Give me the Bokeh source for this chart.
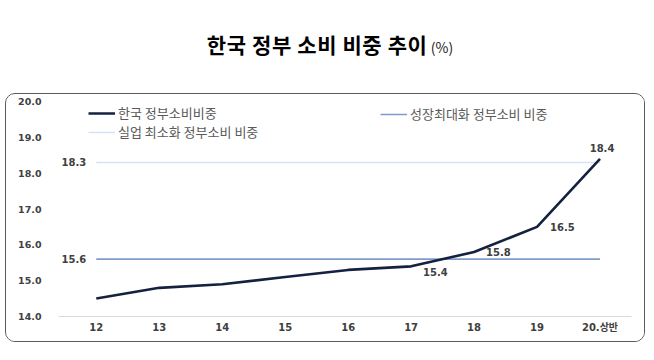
from bokeh.plotting import figure
from bokeh.models import (ColumnDataSource, Range1d, FixedTicker, NumeralTickFormatter,
                          Legend, LegendItem, Div)
from bokeh.layouts import column
from bokeh.core.properties import value
from bokeh.embed import file_html
from bokeh.resources import INLINE

# ---- data ----
years = ["12", "13", "14", "15", "16", "17", "18", "19", "20.상반"]
korea_share = [14.5, 14.8, 14.9, 15.1, 15.3, 15.4, 15.8, 16.5, 18.4]
growth_max = 15.6
unemp_min = 18.3
labeled_points = [5, 6, 7, 8]
label_dx = [12, 12, 13, 2]
label_dy = [6, 0, 0, -11]
label_align = ["left", "left", "left", "center"]

NAVY = "#14213f"
STEEL = "#7f9ccb"
LIGHT = "#d6e2f3"
GRAY = "#404040"
KFONT = "'Noto Sans CJK KR', 'Noto Sans', sans-serif"
NFONT = "'DejaVu Sans', 'Noto Sans CJK KR', sans-serif"

xs = list(range(len(years)))

p = figure(width=638, height=247, output_backend="svg", toolbar_location=None,
           x_range=Range1d(-0.6, 8.5), y_range=Range1d(14, 20),
           min_border_left=52, min_border_right=13, min_border_top=7, min_border_bottom=25)
p.outline_line_color = None
p.background_fill_color = "white"
p.xgrid.visible = False
p.ygrid.visible = False

# reference lines
src_g = ColumnDataSource(dict(x=[xs[0], xs[-1]], y=[growth_max, growth_max]))
src_u = ColumnDataSource(dict(x=[xs[0], xs[-1]], y=[unemp_min, unemp_min]))
r_u = p.line("x", "y", source=src_u, line_color=LIGHT, line_width=1.5)
r_g = p.line("x", "y", source=src_g, line_color=STEEL, line_width=1.6)

# main series
src_k = ColumnDataSource(dict(x=xs, y=korea_share))
r_k = p.line("x", "y", source=src_k, line_color=NAVY, line_width=2.6)

# reference line labels
src_rl = ColumnDataSource(dict(x=[xs[0], xs[0]], y=[unemp_min, growth_max],
                               t=[f"{unemp_min:.1f}", f"{growth_max:.1f}"]))
p.text("x", "y", text="t", source=src_rl, text_align="right", text_baseline="middle",
       x_offset=-10, text_font=value("DejaVu Sans"), text_font_style="bold",
       text_font_size="10px", text_color=GRAY)

# data labels
src_dl = ColumnDataSource(dict(
    x=[xs[i] for i in labeled_points],
    y=[korea_share[i] for i in labeled_points],
    t=[f"{korea_share[i]:.1f}" for i in labeled_points],
    dx=label_dx, dy=label_dy, al=label_align))
p.text("x", "y", text="t", source=src_dl, x_offset="dx", y_offset="dy",
       text_align="al", text_baseline="middle", text_font=value("DejaVu Sans"),
       text_font_style="bold", text_font_size="10px", text_color=GRAY)

# axes
p.yaxis.ticker = FixedTicker(ticks=[14, 15, 16, 17, 18, 19, 20])
p.yaxis.formatter = NumeralTickFormatter(format="0.0")
p.yaxis.axis_line_color = None
p.yaxis.major_tick_line_color = None
p.yaxis.minor_tick_line_color = None
p.yaxis.major_tick_out = 0
p.yaxis.major_label_standoff = 17
p.yaxis.major_label_text_font = "DejaVu Sans"
p.yaxis.major_label_text_font_style = "bold"
p.yaxis.major_label_text_font_size = "9.5px"
p.yaxis.major_label_text_color = GRAY

p.xaxis.ticker = FixedTicker(ticks=xs)
p.xaxis.major_label_overrides = {i: years[i] for i in xs}
p.xaxis.axis_line_color = "#d9d9d9"
p.xaxis.axis_line_width = 1
p.xaxis.major_tick_line_color = None
p.xaxis.minor_tick_line_color = None
p.xaxis.major_tick_out = 0
p.xaxis.major_label_standoff = 5
p.xaxis.major_label_text_font = NFONT
p.xaxis.major_label_text_font_style = "bold"
p.xaxis.major_label_text_font_size = "10px"
p.xaxis.major_label_text_color = GRAY

# legends
def make_legend(items, loc):
    lg = Legend(items=items, location=loc, orientation="vertical",
                background_fill_alpha=0, border_line_color=None,
                padding=0, margin=0, spacing=0,
                glyph_width=27, glyph_height=18, label_height=18,
                label_standoff=3, label_text_font=KFONT,
                label_text_font_size="13px", label_text_color="#595959")
    return lg

leg1 = make_legend([LegendItem(label="한국 정부소비비중", renderers=[r_k]),
                    LegendItem(label="실업 최소화 정부소비 비중", renderers=[r_u])], (30, 175))
leg2 = make_legend([LegendItem(label="성장최대화 정부소비 비중", renderers=[r_g])], (322, 193))
p.add_layout(leg1)
p.add_layout(leg2)

title = Div(text=("<div style=\"width:640px;text-align:center;padding-top:24px;\">"
                  "<span style=\"font-family:'Noto Sans CJK KR';font-weight:bold;font-size:21px;"
                  "letter-spacing:0.6px;color:#000;\">한국 정부 소비 비중 추이</span> "
                  "<span style=\"font-family:'Noto Sans CJK KR';font-size:14px;color:#222;\">(%)</span></div>"),
            width=640, height=83)

box = column(p, styles={"border": "1px solid #5a5a5a", "border-radius": "10px",
                        "overflow": "hidden"})
layout = column(title, box, spacing=0, styles={"margin-left": "5px"})
open("out.html", "w").write(file_html(layout, INLINE))
